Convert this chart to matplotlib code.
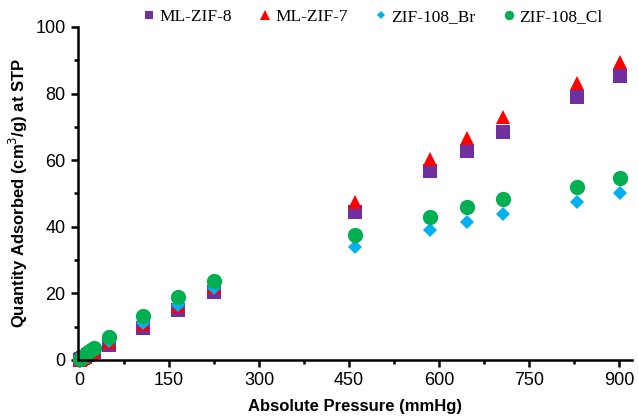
import matplotlib
matplotlib.use("Agg")
import matplotlib.pyplot as plt
from matplotlib.ticker import MultipleLocator

# pressures (mmHg)
pressure = [0.5, 3, 6, 10, 15, 20, 25, 50, 106, 165, 225, 460, 585, 646, 706, 830, 902]

# quantity adsorbed (cm3/g STP)
ml_zif8 = [0.05, 0.3, 0.6, 0.9, 1.4, 1.8, 2.3, 4.5, 9.5, 15.0, 20.5, 44.5, 56.8, 62.8, 68.5, 79.0, 85.3]
ml_zif7 = [0.05, 0.35, 0.7, 1.1, 1.6, 2.1, 2.7, 5.5, 10.8, 16.3, 21.8, 47.5, 60.5, 66.8, 73.0, 83.2, 89.5]
zif108_br = [0.1, 0.4, 0.8, 1.3, 1.8, 2.4, 3.0, 5.8, 11.0, 16.5, 21.5, 34.0, 39.0, 41.5, 43.8, 47.4, 50.0]
zif108_cl = [0.2, 0.6, 1.0, 1.6, 2.3, 2.9, 3.6, 7.0, 13.3, 18.8, 23.8, 37.5, 43.0, 45.8, 48.2, 52.0, 54.6]

labels = ["ML-ZIF-8", "ML-ZIF-7", "ZIF-108_Br", "ZIF-108_Cl"]
series = [ml_zif8, ml_zif7, zif108_br, zif108_cl]
markers = ["s", "^", "D", "o"]
sizes = [10, 10.5, 7, 11]
colors = ["#7030A0", "#FF0000", "#00B0F0", "#00B050"]

plt.rcParams['font.family'] = ['Liberation Sans', 'DejaVu Sans']

fig = plt.figure(figsize=(6.38, 4.17), dpi=100)
ax = fig.add_axes([0.1223, 0.1367, 0.8683, 0.7986])

for y, lab, m, ms, c in zip(series, labels, markers, sizes, colors):
    ax.plot(pressure, y, linestyle="none", marker=m, markersize=ms, color=c,
            markeredgewidth=0, label=lab, clip_on=False)

ax.set_xlim(-2, 922)
ax.set_ylim(0, 100)
ax.xaxis.set_major_locator(MultipleLocator(150))
ax.xaxis.set_minor_locator(MultipleLocator(75))
ax.yaxis.set_major_locator(MultipleLocator(20))
ax.yaxis.set_minor_locator(MultipleLocator(10))

for s in ["top", "right"]:
    ax.spines[s].set_visible(False)
for s in ["left", "bottom"]:
    ax.spines[s].set_linewidth(1.8)

ax.tick_params(which="major", direction="out", length=5, width=1.8, labelsize=13, pad=4)
ax.tick_params(which="minor", direction="out", length=3, width=1.8)

ax.set_xlabel("Absolute Pressure (mmHg)", fontsize=12, fontweight="bold", labelpad=7)
ax.set_ylabel("Quantity Adsorbed (cm$^3$/g) at STP", fontsize=12, fontweight="bold", labelpad=4)

leg = ax.legend(loc="center", bbox_to_anchor=(0.532, 1.03), ncol=4, frameon=False,
                markerscale=0.62, handlelength=0.7, handletextpad=0.25,
                columnspacing=1.55, prop={"family": "Liberation Serif", "size": 12.5})

fig.savefig("out.png", dpi=100)
